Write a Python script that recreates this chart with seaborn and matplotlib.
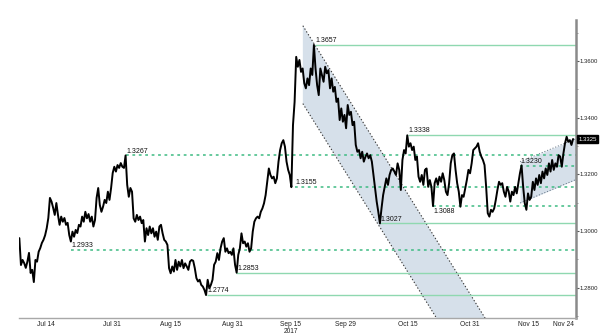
import matplotlib
matplotlib.use("Agg")
import matplotlib.pyplot as plt
import numpy as np
import pandas as pd
import seaborn as sns

# ---------------- data ----------------
series_start = "2017-07-07 05:00"
series_end = "2017-11-26 13:00"

prices = [
    1.2975, 1.2880, 1.2898, 1.2887, 1.2870, 1.2892, 1.2923, 1.2852, 1.2863, 1.2820,
    1.2898, 1.2892, 1.2927, 1.2940, 1.2958, 1.2969, 1.2985, 1.3010,
    1.3046, 1.3117, 1.3104, 1.3082, 1.3057, 1.3099, 1.3057, 1.3022, 1.3051, 1.3033,
    1.3046, 1.3022, 1.3029, 1.2986, 1.2963, 1.2998, 1.2980, 1.3004, 1.2993, 1.3022,
    1.3016, 1.3051, 1.3033, 1.3068, 1.3045, 1.3060,
    1.3033, 1.3051, 1.3016, 1.3039, 1.3117, 1.3152, 1.3092, 1.3068, 1.3086, 1.3110,
    1.3099, 1.3139, 1.3110, 1.3152, 1.3205, 1.3227, 1.3210, 1.3233, 1.3223, 1.3240,
    1.3227, 1.3223, 1.3267, 1.3163, 1.3121, 1.3152, 1.3139, 1.3045, 1.3033, 1.3057,
    1.3039, 1.3051, 1.3028, 1.3039, 1.2963, 1.3010, 1.2986, 1.3016, 1.2992, 1.3010,
    1.2980, 1.2998, 1.2969, 1.3016, 1.3022, 1.2992, 1.2969, 1.2963, 1.2951, 1.2869,
    1.2851, 1.2875, 1.2857, 1.2898, 1.2863, 1.2892, 1.2875, 1.2898, 1.2869, 1.2886,
    1.2875,
    1.2863, 1.2892, 1.2898, 1.2895, 1.2869, 1.2834, 1.2822, 1.2828, 1.2810, 1.2804,
    1.2792, 1.2774, 1.2828, 1.2798, 1.2810, 1.2828, 1.2881, 1.2892, 1.2922, 1.2898,
    1.2939, 1.2963, 1.2975, 1.2927, 1.2939, 1.2922, 1.2927, 1.2916, 1.2939, 1.2881,
    1.2853, 1.2916, 1.2939, 1.2992, 1.2957, 1.2963, 1.2945, 1.2957, 1.2927, 1.2939,
    1.2998, 1.3033, 1.3045, 1.3051, 1.3045, 1.3068, 1.3080, 1.3098, 1.3127, 1.3174,
    1.3221, 1.3198, 1.3186, 1.3192, 1.3169, 1.3186, 1.3245, 1.3286, 1.3310, 1.3321,
    1.3298, 1.3245, 1.3216, 1.3198, 1.3155,
    1.3374, 1.3456, 1.3615,
    1.3580, 1.3604, 1.3562, 1.3574, 1.3522, 1.3504, 1.3539, 1.3515, 1.3574,
    1.3551, 1.3657, 1.3574, 1.3515, 1.3480, 1.3574, 1.3551, 1.3527, 1.3580, 1.3557,
    1.3568, 1.3504, 1.3539, 1.3492, 1.3509, 1.3456, 1.3468, 1.3392, 1.3433, 1.3386,
    1.3410, 1.3363, 1.3445, 1.3410, 1.3421, 1.3374, 1.3386, 1.3304, 1.3280, 1.3286,
    1.3257, 1.3280, 1.3245, 1.3262, 1.3274, 1.3257, 1.3268, 1.3245, 1.3198, 1.3151, 1.3104,
    1.3068, 1.3027, 1.3080, 1.3127, 1.3156, 1.3186, 1.3163, 1.3198, 1.3216, 1.3221,
    1.3210, 1.3198, 1.3239, 1.3216, 1.3145, 1.3251, 1.3286, 1.3274, 1.3338, 1.3298,
    1.3310, 1.3286, 1.3298, 1.3251, 1.3263, 1.3192, 1.3174, 1.3198, 1.3163, 1.3216,
    1.3221, 1.3156, 1.3180, 1.3156, 1.3088, 1.3169, 1.3186, 1.3163, 1.3192, 1.3174,
    1.3204, 1.3180, 1.3139, 1.3127, 1.3169, 1.3239, 1.3268, 1.3274, 1.3216, 1.3169,
    1.3139, 1.3086, 1.3127, 1.3121, 1.3151, 1.3180, 1.3216, 1.3204, 1.3239, 1.3286,
    1.3292,
    1.3298, 1.3310, 1.3280, 1.3263, 1.3251, 1.3233, 1.3156, 1.3063, 1.3051, 1.3075,
    1.3068, 1.3080, 1.3110, 1.3145, 1.3174, 1.3163, 1.3169, 1.3139, 1.3121, 1.3156,
    1.3140,
    1.3104, 1.3139, 1.3127, 1.3156, 1.3133, 1.3169, 1.3204, 1.3232, 1.3156, 1.3098,
    1.3075, 1.3133, 1.3110, 1.3121, 1.3174, 1.3145, 1.3186, 1.3163, 1.3198, 1.3169,
    1.3210, 1.3186, 1.3221, 1.3198, 1.3239, 1.3210, 1.3251, 1.3216, 1.3239, 1.3227,
    1.3268, 1.3263, 1.3227, 1.3274, 1.3310, 1.3333, 1.3315, 1.3321, 1.3304, 1.3325,
]
last_price = 1.3325

# horizontal support / resistance levels
solid_levels = [1.3657, 1.3338, 1.3027, 1.2853, 1.2774]
solid_level_starts = ["2017-09-21 05:00", "2017-10-15 00:00", "2017-10-07 22:00",
                      "2017-09-01 00:00", "2017-08-24 10:00"]
dotted_levels = [1.3267, 1.3230, 1.3155, 1.3088, 1.2933]
dotted_level_starts = ["2017-08-03 14:00", "2017-11-12 22:00", "2017-09-16 02:00",
                       "2017-10-21 14:00", "2017-07-20 10:00"]
labels_below = [1.3088]

# falling channel
down_dates = ["2017-09-18 02:00", "2017-11-06 00:00"]
down_upper = [1.3725, 1.2647]
down_lower = [1.3450, 1.2372]
# rising channel
up_dates = ["2017-11-12 22:00", "2017-11-28 00:00"]
up_upper = [1.3245, 1.3330]
up_lower = [1.3099, 1.3186]

xtick_dates = ["2017-07-14", "2017-07-31", "2017-08-15", "2017-08-31", "2017-09-15",
               "2017-09-29", "2017-10-15", "2017-10-31", "2017-11-15", "2017-11-24"]
xtick_labels = ["Jul 14", "Jul 31", "Aug 15", "Aug 31", "Sep 15\n2017",
                "Sep 29", "Oct 15", "Oct 31", "Nov 15", "Nov 24"]
ytick_values = [1.28, 1.30, 1.32, 1.34, 1.36]

# ---------------- drawing ----------------
sns.set_style("white")
plt.rcParams["font.family"] = ["Liberation Sans", "DejaVu Sans"]

fig = plt.figure(figsize=(6, 3.34), dpi=100)
ax = fig.add_axes([0.0317, 0.047, 0.928, 0.893])

df = pd.DataFrame({
    "time": pd.date_range(series_start, series_end, periods=len(prices)),
    "price": prices,
})

x_left = pd.Timestamp("2017-07-07 03:00")
x_right = pd.Timestamp("2017-11-27 06:00")

# channels
fill_col = "#d6e0ea"
edge_col = "#3a3a3a"
dd = pd.to_datetime(down_dates)
ax.fill_between(dd, down_lower, down_upper, color=fill_col, lw=0, zorder=1)
ax.plot(dd, down_upper, ls=(0, (1.2, 1.8)), color=edge_col, lw=0.8, zorder=2)
ax.plot(dd, down_lower, ls=(0, (1.2, 1.8)), color=edge_col, lw=0.8, zorder=2)
ud = pd.to_datetime(up_dates)
ax.fill_between(ud, up_lower, up_upper, color=fill_col, lw=0, zorder=1)
ax.plot(ud, up_upper, ls=(0, (1.2, 1.8)), color="#6a7a8a", lw=0.7, zorder=2)
ax.plot(ud, up_lower, ls=(0, (1.2, 1.8)), color="#6a7a8a", lw=0.7, zorder=2)

# level lines
for lvl, st in zip(solid_levels, solid_level_starts):
    ax.hlines(lvl, pd.Timestamp(st), x_right, color="#8fd8b0", lw=1.0, zorder=2)
for lvl, st in zip(dotted_levels, dotted_level_starts):
    ax.hlines(lvl, pd.Timestamp(st), x_right, color="#3dbb82", lw=1.1,
              linestyles=[(0, (1.8, 2.4))], zorder=2)

# price
sns.lineplot(data=df, x="time", y="price", ax=ax, color="black", lw=1.4,
             zorder=3, estimator=None)

# level labels
for lvl, st in zip(solid_levels + dotted_levels, solid_level_starts + dotted_level_starts):
    below = lvl in labels_below
    ax.annotate(f"{lvl:.4f}", xy=(pd.Timestamp(st), lvl),
                xytext=(0.5, -1.0 if below else 0.6), textcoords="offset points",
                ha="left", va="top" if below else "bottom", fontsize=5.0,
                color="#111111", zorder=4)

ax.set_xlim(x_left, x_right)
ax.set_ylim(1.2692, 1.3745)

# axes styling
for s in ["left", "top"]:
    ax.spines[s].set_visible(False)
ax.spines["right"].set_color("#8a8a8a")
ax.spines["right"].set_linewidth(1.8)
ax.spines["bottom"].set_color("#a8a8a8")
ax.spines["bottom"].set_linewidth(1.0)

ax.yaxis.tick_right()
ax.set_yticks(ytick_values)
ax.set_yticklabels([f"{v:.4f}" for v in ytick_values])
ax.set_yticks([v + 0.01 for v in ytick_values] + [1.27], minor=True)
ax.tick_params(axis="y", which="major", length=2.0, width=0.8, color="#555555",
               labelsize=4.3, pad=0.8, labelcolor="#222222")
ax.tick_params(axis="y", which="minor", length=1.2, width=0.6, color="#888888")

xt = pd.to_datetime(xtick_dates)
ax.set_xticks(xt)
ax.set_xticklabels(xtick_labels)
mids = [a + (b - a) / 2 for a, b in zip(xt[:-1], xt[1:])]
ax.set_xticks(mids, minor=True)
ax.tick_params(axis="x", which="major", length=0, labelsize=4.8, pad=2,
               labelcolor="#222222")
ax.tick_params(axis="x", which="minor", length=3, width=0.7, color="#999999")
for lab in ax.get_xticklabels():
    lab.set_linespacing(0.9)
ax.set_xlabel("")
ax.set_ylabel("")

# last price tag
ax.annotate(f"{last_price:.4f}", xy=(1.0, last_price),
            xycoords=("axes fraction", "data"), xytext=(2.0, 0),
            textcoords="offset points", ha="left", va="center", fontsize=4.3,
            color="white", annotation_clip=False,
            bbox=dict(boxstyle="square,pad=0.2", fc="black", ec="black"))

fig.savefig("out.png", dpi=100, facecolor="white")
